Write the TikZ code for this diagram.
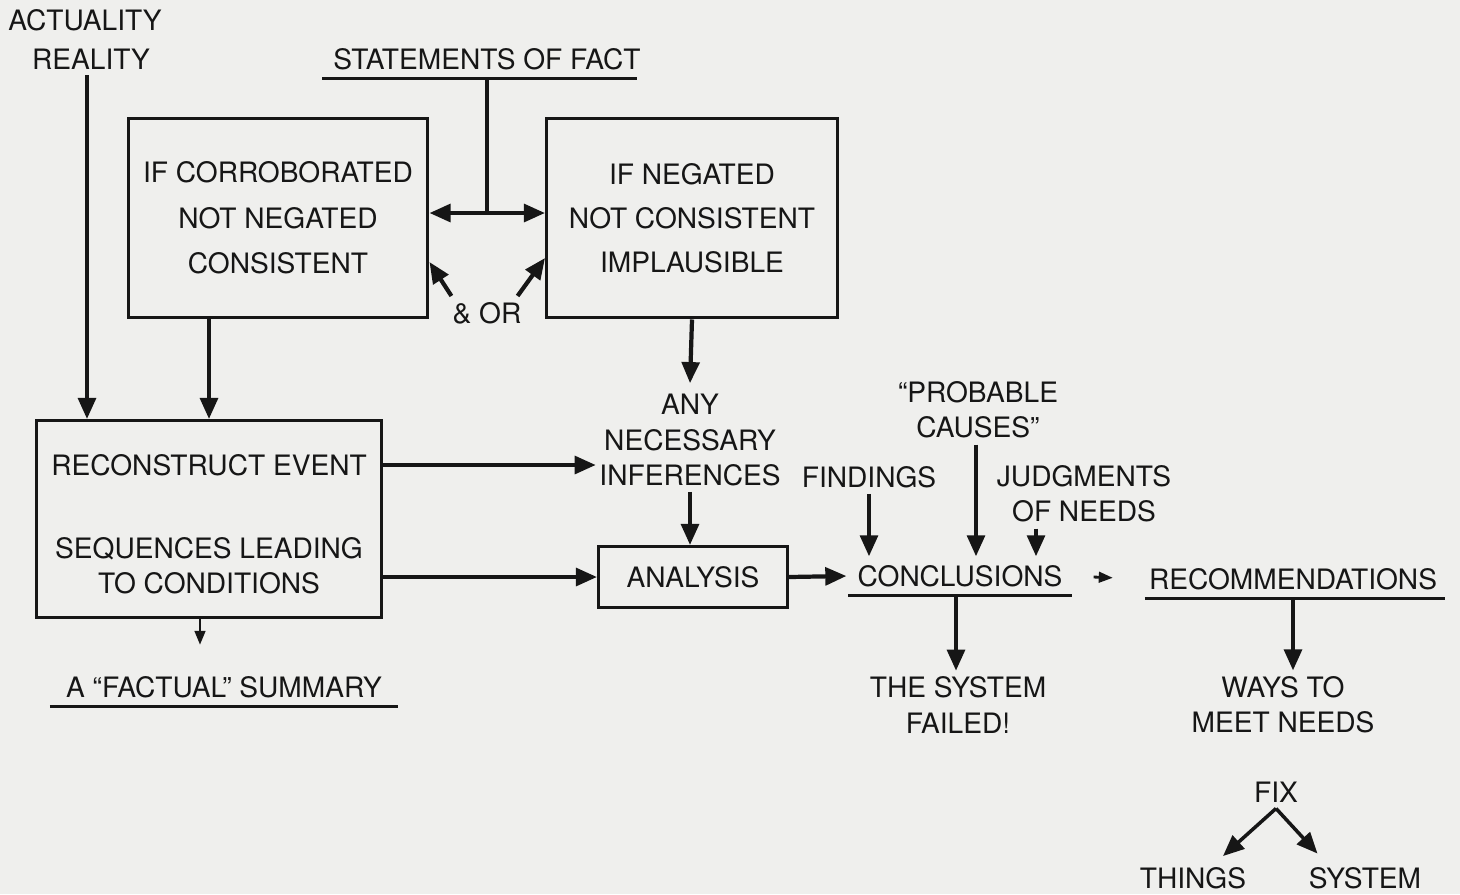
\documentclass[tikz,border=0pt]{standalone}
\usepackage{fontspec}
\setmainfont{TeX Gyre Heros}
\usepackage{tikz}
\usetikzlibrary{arrows.meta,positioning,calc}
\definecolor{paper}{RGB}{239,239,237}
\definecolor{ink}{RGB}{22,22,22}

\begin{document}
\begin{tikzpicture}[x=0.02cm,y=-0.02cm,>={Triangle[length=12pt,width=10pt]},
  every node/.style={font=\fontsize{16}{20}\selectfont,text=ink,align=center},
  box/.style={draw=ink,line width=1.7pt,inner sep=0pt},
  arr/.style={->,draw=ink,line width=2.4pt},
  thin arr/.style={->,draw=ink,line width=1.6pt,>={Triangle[length=8pt,width=6pt]}},
  ul/.style={inner ysep=5pt,text depth=0pt},
  uline/.style={draw=ink,line width=1.6pt}]
  \fill[paper] (0,0) rectangle (1460,894);
  \useasboundingbox (0,0) rectangle (1460,894);

  \node (act) at (85,20) {ACTUALITY};
  \node (real) at (91,59) {REALITY};
  \node[ul] (fact) at (487,59) {STATEMENTS OF FACT};
  \draw[uline] ([xshift=-0.1cm]fact.south west) -- ([xshift=-0.2cm]fact.south east);

  \node[box,minimum width=6cm,minimum height=4cm] (corr) at (278,218)
    {IF CORROBORATED\\[6pt]NOT NEGATED\\[6pt]CONSISTENT};
  \node[box,minimum width=5.82cm,minimum height=4cm] (neg) at (692,218)
    {IF NEGATED\\[5pt]NOT CONSISTENT\\[5pt]IMPLAUSIBLE};
  \node (andor) at (487,313) {\& OR};

  \node[box,minimum width=6.9cm,minimum height=3.94cm] (recon) at (209,519) {};
  \node (evt) at (209,465) {RECONSTRUCT EVENT};
  \node (seq) at (209,566) {SEQUENCES LEADING\\TO CONDITIONS};
  \node[ul] (sum) at (224,687) {A ``FACTUAL'' SUMMARY};
  \draw[uline] ([xshift=-0.2cm]sum.south west) -- ([xshift=0.2cm]sum.south east);

  \node (infer) at (690,440) {ANY\\NECESSARY\\INFERENCES};
  \node[box,minimum width=3.78cm,minimum height=1.22cm] (ana) at (693,577) {ANALYSIS};

  \node (find) at (869,477) {FINDINGS};
  \node (prob) at (978,410) {``PROBABLE\\CAUSES''};
  \node (judg) at (1084,494) {JUDGMENTS\\OF NEEDS};
  \node[ul] (conc) at (960,576) {CONCLUSIONS};
  \draw[uline] ([xshift=-0.06cm]conc.south west) -- ([xshift=0.06cm]conc.south east);
  \node[ul] (rec) at (1293,579) {RECOMMENDATIONS};
  \draw[uline] ([xshift=0.04cm]rec.south west) -- ([xshift=0.04cm]rec.south east);

  \node (fail) at (958,705) {THE SYSTEM\\FAILED!};
  \node (ways) at (1283,705) {WAYS TO\\MEET NEEDS};
  \node (fix) at (1276,792) {FIX};
  \node (things) at (1193,878) {THINGS};
  \node (sys) at (1365,878) {SYSTEM};

  \coordinate (j) at (487,213);
  \draw[uline,line width=2.4pt] (fact.south) -- (j);
  \draw[arr] (j) -- (j -| corr.east);
  \draw[arr] (j) -- (j -| neg.west);
  \draw[arr] ([xshift=0.1cm]andor.north west) -- ([yshift=-0.88cm]corr.east);
  \draw[arr] ([xshift=-0.2cm]andor.north east) -- ([yshift=-0.8cm]neg.west);

  \draw[arr] ([xshift=-0.08cm]real.south) -- ([xshift=-0.08cm]real.south |- recon.north);
  \draw[arr] (recon.north |- corr.south) -- (recon.north);
  \draw[arr] (neg.south) -- ([yshift=0.1cm]infer.north);
  \draw[thin arr,shorten >=0.45cm] ([xshift=-0.18cm]recon.south) -- ([xshift=-0.18cm]recon.south |- sum.north);

  \draw[arr] (recon.east |- evt) -- ([xshift=0.05cm]infer.west |- evt);
  \draw[arr] (infer.south) -- (infer.south |- ana.north);
  \draw[arr] (recon.east |- ana.west) -- (ana.west);
  \draw[arr] (ana.east) -- ([xshift=-0.1cm]conc.west);

  \draw[arr] (find.south) -- (find.south |- conc.north);
  \draw[arr] ([xshift=-0.04cm]prob.south) -- ([xshift=-0.04cm]prob.south |- conc.north);
  \draw[arr] ([xshift=-0.96cm]judg.south) -- ([xshift=-0.96cm]judg.south |- conc.north);
  \draw[thin arr,shorten <=0.5cm,shorten >=0.6cm] (conc.east) -- (rec.west);

  \draw[arr] ([xshift=-0.08cm]conc.south) -- ([xshift=-0.08cm]conc.south |- fail.north);
  \draw[arr] (rec.south) -- (rec.south |- ways.north);

  \draw[arr,line width=2pt] (fix.south) -- ([xshift=0.6cm,yshift=0.1cm]things.north);
  \draw[arr,line width=2pt] (fix.south) -- ([xshift=-0.95cm,yshift=0.15cm]sys.north);
\end{tikzpicture}
\end{document}
